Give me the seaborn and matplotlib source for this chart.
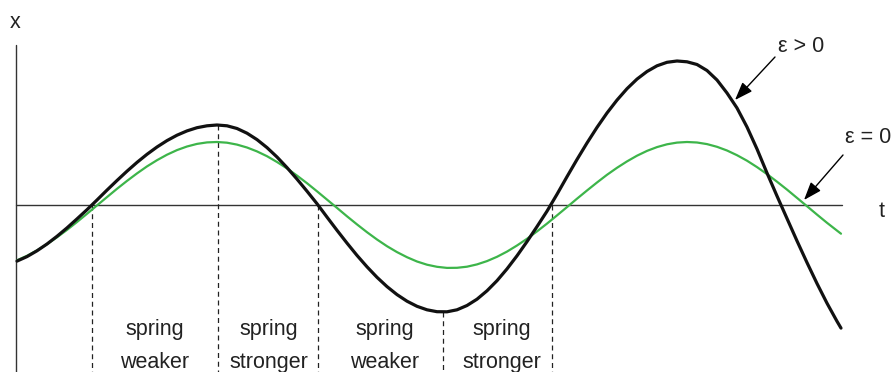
import numpy as np
import pandas as pd
import matplotlib
matplotlib.use("Agg")
import matplotlib.pyplot as plt
import seaborn as sns

# time samples (arbitrary units)
t = list(range(0, 830, 10)) + [824]

# displacement of the linear oscillator (epsilon = 0)
x_linear = [
    -55.3, -50.8, -45.4, -39.2, -32.3, -24.9, -17.0, -8.8, -0.4, 7.9,
    16.2, 24.1, 31.6, 38.6, 44.8, 50.3, 54.9, 58.5, 61.1, 62.6,
    63.0, 62.3, 60.4, 57.5, 53.6, 48.8, 43.0, 36.6, 29.4, 21.8,
    13.7, 5.4, -2.9, -11.3, -19.4, -27.2, -34.5, -41.2, -47.1, -52.2,
    -56.5, -59.7, -61.8, -62.9, -62.8, -61.7, -59.4, -56.1, -51.8, -46.6,
    -40.5, -33.8, -26.4, -18.6, -10.4, -2.1, 6.3, 14.5, 22.5, 30.2,
    37.2, 43.6, 49.3, 54.1, 57.9, 60.7, 62.4, 63.0, 62.5, 60.9,
    58.2, 54.5, 49.8, 44.3, 37.9, 30.9, 23.3, 15.4, 7.1, -1.2,
    -9.6, -17.8, -25.6, -28.7,
]

# displacement with the modulated spring (epsilon > 0)
x_pumped = [
    -56.1, -51.6, -45.8, -39.0, -31.3, -22.9, -13.9, -4.7,
    5.0, 14.9, 24.5, 33.8, 42.6, 50.7, 58.0, 64.4, 69.8, 74.1, 77.3, 79.2, 80.0,
    79.2, 76.5, 71.8, 65.4, 57.4, 48.0, 37.4, 25.9, 13.8, 1.3,
    -12.1, -25.3, -38.1, -50.4, -61.8, -72.3, -81.6, -89.6, -96.2, -101.3, -104.8, -106.7,
    -106.8, -104.8, -100.5, -94.2, -85.8, -75.7, -63.9, -50.8, -36.6, -21.6, -6.2,
    10.7, 28.3, 45.5, 62.0, 77.6, 92.0, 104.9, 116.3, 125.9, 133.5, 139.2, 142.7, 144.0,
    143.2, 140.5, 134.5, 125.0, 112.0, 97.0, 78.0, 56.0, 32.0, 9.0,
    -13.5, -35.9, -57.6, -78.5, -98.2, -116.3, -123.1,
]

# instants where the spring stiffness switches (zero crossings and turning points)
switch_t = [75, 201, 301, 426, 535]
switch_is_extremum = [False, True, False, True, False]

phase_labels = ["spring\nweaker", "spring\nstronger", "spring\nweaker", "spring\nstronger"]
phase_centers = [138, 252, 368, 485]

sns.set_theme(style="white")
plt.rcParams["font.family"] = ["Liberation Sans", "DejaVu Sans"]

fig = plt.figure(figsize=(8.95, 3.72), dpi=100)
ax = fig.add_axes([0, 0, 1, 1])
ax.set_xlim(-17, 878)
ax.set_ylim(-167, 205)
ax.axis("off")

df = pd.DataFrame({"t": t, "linear": x_linear, "pumped": x_pumped})

# coordinate axes
ax.plot([-1, -1], [160, -167], color="#333333", lw=1.0, zorder=1)
ax.plot([-1, 825], [0, 0], color="#333333", lw=1.0, zorder=1)

sns.lineplot(data=df, x="t", y="linear", ax=ax, color="#3DB54A", lw=1.6,
             sort=False, estimator=None, zorder=3)
sns.lineplot(data=df, x="t", y="pumped", ax=ax, color="#111111", lw=2.3,
             sort=False, estimator=None, zorder=4)
ax.set_xlim(-17, 878)
ax.set_ylim(-167, 205)
ax.axis("off")

# dashed markers at the switching instants
for ts, ext in zip(switch_t, switch_is_extremum):
    top = float(np.interp(ts, t, x_pumped)) if ext else 0.0
    ax.plot([ts, ts], [top, -167], color="#222222", lw=0.9,
            linestyle=(0, (4, 3)), zorder=2)

label_kw = dict(ha="center", va="baseline", fontsize=15.5, color="#222222")
for lab, tc in zip(phase_labels, phase_centers):
    top_line, bottom_line = lab.split("\n")
    ax.text(tc, -130, top_line, **label_kw)
    ax.text(tc, -163, bottom_line, **label_kw)

# axis names
ax.text(-2, 177.5, "x", ha="center", va="baseline", fontsize=15.5, color="#222222")
ax.text(865, -12, "t", ha="center", va="baseline", fontsize=15.5, color="#222222")

# curve annotations
ax.text(761, 153, "ε > 0", ha="left", va="baseline", fontsize=15.5, color="#222222")
ax.text(828, 62, "ε = 0", ha="left", va="baseline", fontsize=15.5, color="#222222")
arrow = dict(arrowstyle="-|>,head_length=1.1,head_width=0.4", color="black",
             lw=1.0, shrinkA=0, shrinkB=0, mutation_scale=10)
ax.annotate("", xy=(718, 105), xytext=(758, 148), arrowprops=arrow, zorder=5)
ax.annotate("", xy=(787, 5), xytext=(826, 50), arrowprops=arrow, zorder=5)

fig.savefig("out.png", dpi=100)
